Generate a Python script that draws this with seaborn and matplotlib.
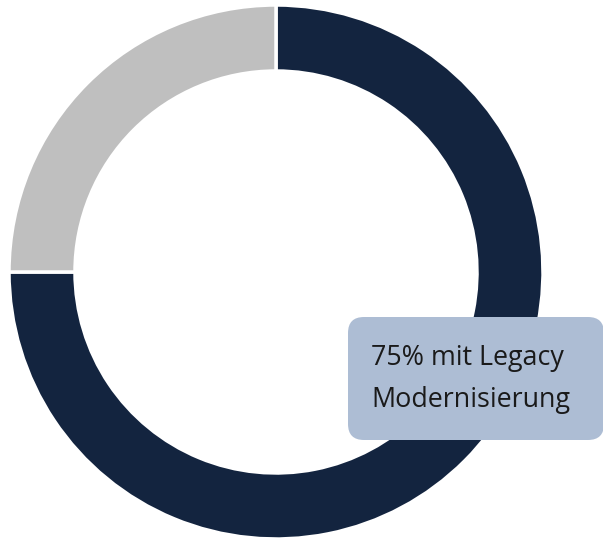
import matplotlib
matplotlib.use("Agg")
import matplotlib.pyplot as plt
from matplotlib.patches import FancyBboxPatch
import seaborn as sns

# data
labels = ["mit Legacy Modernisierung", "ohne"]
shares = [75, 25]
colors = ["#13243f", "#bfbfbf"]
label_text = "75% mit Legacy\nModernisierung"

sns.set_theme(style="white")
plt.rcParams['font.family'] = ['Open Sans', 'DejaVu Sans']

W, H = 603, 541
fig = plt.figure(figsize=(W / 100, H / 100), dpi=100)
ax = fig.add_axes([0, 0, 1, 1])

# donut, center/radius in pixel units
ax.pie(shares, colors=colors, startangle=90, counterclock=False,
       center=(276, H - 272), radius=267,
       wedgeprops=dict(width=66, edgecolor="white", linewidth=2.5))

ax.set_xlim(0, W)
ax.set_ylim(0, H)
ax.set_aspect("equal")
ax.axis("off")

# label box
box = FancyBboxPatch((348, H - 440), 256, 123,
                     boxstyle="round,pad=0,rounding_size=16",
                     facecolor="#adbdd4", edgecolor="none", zorder=3)
ax.add_patch(box)
ax.text(371, H - 379, label_text, fontsize=19.4, color="#1a1a1a",
        va="center", ha="left", linespacing=1.7, zorder=4)

fig.savefig("out.png", dpi=100)
